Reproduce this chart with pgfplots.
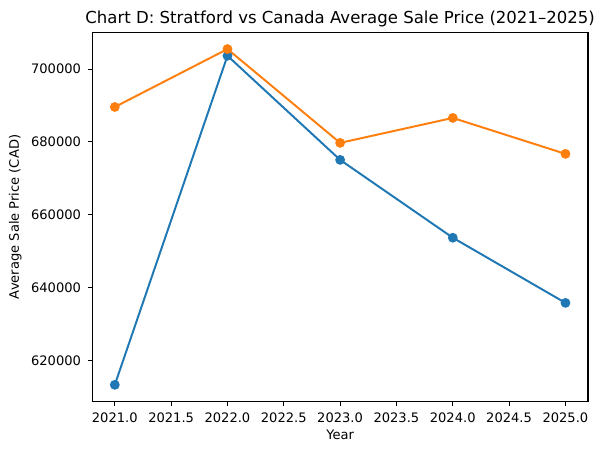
\documentclass[border=0pt]{standalone}
\usepackage{fontspec}
\setmainfont{DejaVu Sans}
\usepackage{pgfplots}
\pgfplotsset{compat=1.18}
\usetikzlibrary{calc}
\definecolor{mplblue}{HTML}{1F77B4}
\definecolor{mplorange}{HTML}{FF7F0E}
\begin{document}
\begin{tikzpicture}
\begin{axis}[
    scale only axis,
    width=371.8pt, height=277pt,
    xmin=2020.8, xmax=2025.2,
    ymin=608700, ymax=710100,
    xtick={2021,2021.5,...,2025},
    ytick={620000,640000,660000,680000,700000},
    scaled y ticks=false,
    x tick label style={/pgf/number format/fixed, /pgf/number format/fixed zerofill,
        /pgf/number format/precision=1, /pgf/number format/1000 sep={}, yshift=-1.5pt},
    y tick label style={/pgf/number format/fixed, /pgf/number format/1000 sep={}, xshift=-1.5pt},
    /pgf/number format/assume math mode=true,
    tick label style={font=\fontsize{9.8}{11}\selectfont},
    tick align=outside, tick pos=left,
    major tick length=3.45pt,
    every tick/.style={black, line width=0.79pt},
    axis line style={line width=0.79pt},
    xlabel={Year}, ylabel={Average Sale Price (CAD)},
    every axis x label/.style={at={(axis description cs:0.5,0)}, anchor=base, yshift=-28.5pt, font=\fontsize{9.8}{11}\selectfont},
    every axis y label/.style={at={(axis description cs:0,0.5)}, xshift=-55pt, rotate=90, anchor=base, font=\fontsize{9.8}{11}\selectfont},
    title={Chart D: Stratford vs Canada Average Sale Price (2021–2025)},
    every axis title/.style={at={(axis description cs:0.5,1)}, anchor=base, yshift=6.75pt, font=\fontsize{12.4}{14}\selectfont},
]
% Stratford
\addplot[mplblue, line width=1.47pt, mark=*, mark size=2.9pt] coordinates {
    (2021,613300) (2022,703650) (2023,675060) (2024,653690) (2025,635800)
};
% Canada
\addplot[mplorange, line width=1.47pt, mark=*, mark size=2.9pt] coordinates {
    (2021,689580) (2022,705490) (2023,679730) (2024,686580) (2025,676710)
};
\end{axis}
\path[use as bounding box] ($(current axis.south west)+(-69.2pt,-39.75pt)$) rectangle ($(current axis.north east)+(12.75pt,24.2pt)$);
\end{tikzpicture}
\end{document}
